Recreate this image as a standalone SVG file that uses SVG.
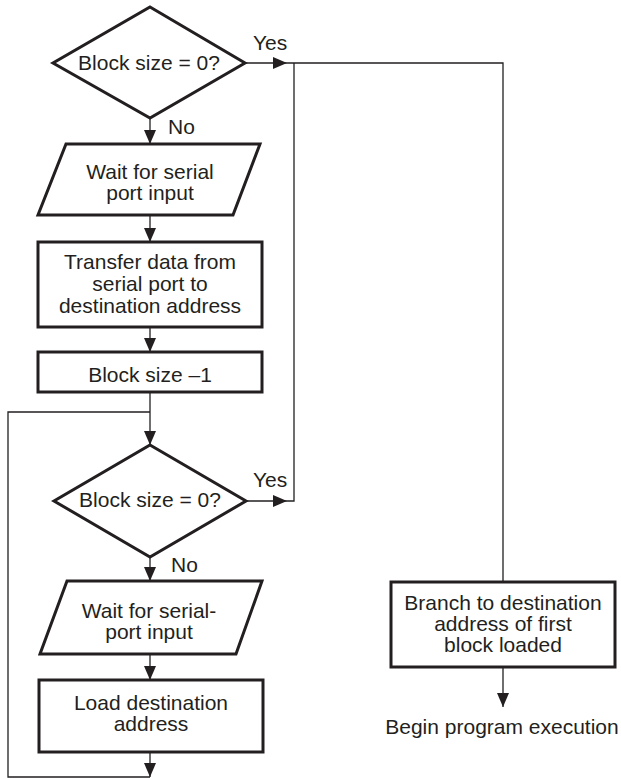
<svg xmlns="http://www.w3.org/2000/svg" width="621" height="779" viewBox="0 0 621 779">
<style>
.node{fill:#fff;stroke:#231f20;stroke-width:3;stroke-linejoin:miter}
.t{font-family:"Liberation Sans",Arial,sans-serif;font-size:21px;fill:#231f20;text-anchor:middle}
.l{font-family:"Liberation Sans",Arial,sans-serif;font-size:21px;fill:#231f20}
.c{fill:none;stroke:#231f20;stroke-width:1.3}
</style>
<defs>
<marker id="ah" markerUnits="userSpaceOnUse" markerWidth="14" markerHeight="12" viewBox="0 0 14 12" refX="14" refY="6" orient="auto">
<path d="M0,0 L14,6 L0,12 Z" fill="#231f20"/>
</marker>
</defs>
<rect width="621" height="779" fill="#fff"/>
<g id="connectors">
<path class="c" d="M150,118 V144" marker-end="url(#ah)"/>
<path class="c" d="M150,215 V242" marker-end="url(#ah)"/>
<path class="c" d="M150,327 V352" marker-end="url(#ah)"/>
<path class="c" d="M150,392 V445" marker-end="url(#ah)"/>
<path class="c" d="M150,557 V581" marker-end="url(#ah)"/>
<path class="c" d="M150,654 V680" marker-end="url(#ah)"/>
<path class="c" d="M150,752 V777" marker-end="url(#ah)"/>
<path class="c" d="M150,777 H8 V412 H150"/>
<path class="c" d="M245,63 H287" marker-end="url(#ah)"/>
<path class="c" d="M287,63 H503 V582"/>
<path class="c" d="M246,501 H287" marker-end="url(#ah)"/>
<path class="c" d="M287,501 H294 V63"/>
<path class="c" d="M503,667 V707" marker-end="url(#ah)"/>
<text class="l" x="253" y="50">Yes</text>
<text class="l" x="168" y="134">No</text>
<text class="l" x="253" y="487">Yes</text>
<text class="l" x="171" y="572">No</text>
</g>
<g id="decision1">
<polygon class="node" points="150,7 245,63 150,118 53,63"/>
<text class="t" x="149" y="70">Block size = 0?</text>
</g>
<g id="input1">
<polygon class="node" points="66,144 260,144 233,215 38,215"/>
<text class="t" x="150" y="179">Wait for serial</text>
<text class="t" x="150" y="200">port input</text>
</g>
<g id="transfer">
<rect class="node" x="38" y="242" width="224" height="85"/>
<text class="t" x="150" y="269">Transfer data from</text>
<text class="t" x="150" y="291">serial port to</text>
<text class="t" x="150" y="313">destination address</text>
</g>
<g id="decrement">
<rect class="node" x="38" y="352" width="224" height="40"/>
<text class="t" x="150" y="382">Block size –1</text>
</g>
<g id="decision2">
<polygon class="node" points="150,445 246,501 150,557 54,501"/>
<text class="t" x="150" y="507">Block size = 0?</text>
</g>
<g id="input2">
<polygon class="node" points="67,581 262,581 236,654 40,654"/>
<text class="t" x="149" y="618">Wait for serial-</text>
<text class="t" x="149" y="639">port input</text>
</g>
<g id="load">
<rect class="node" x="39" y="680" width="224" height="72"/>
<text class="t" x="151" y="710">Load destination</text>
<text class="t" x="151" y="731">address</text>
</g>
<g id="branch">
<rect class="node" x="391" y="582" width="224" height="85"/>
<text class="t" x="503" y="610">Branch to destination</text>
<text class="t" x="503" y="631">address of first</text>
<text class="t" x="503" y="652">block loaded</text>
</g>
<g id="end">
<text class="t" x="502" y="734">Begin program execution</text>
</g>
</svg>
